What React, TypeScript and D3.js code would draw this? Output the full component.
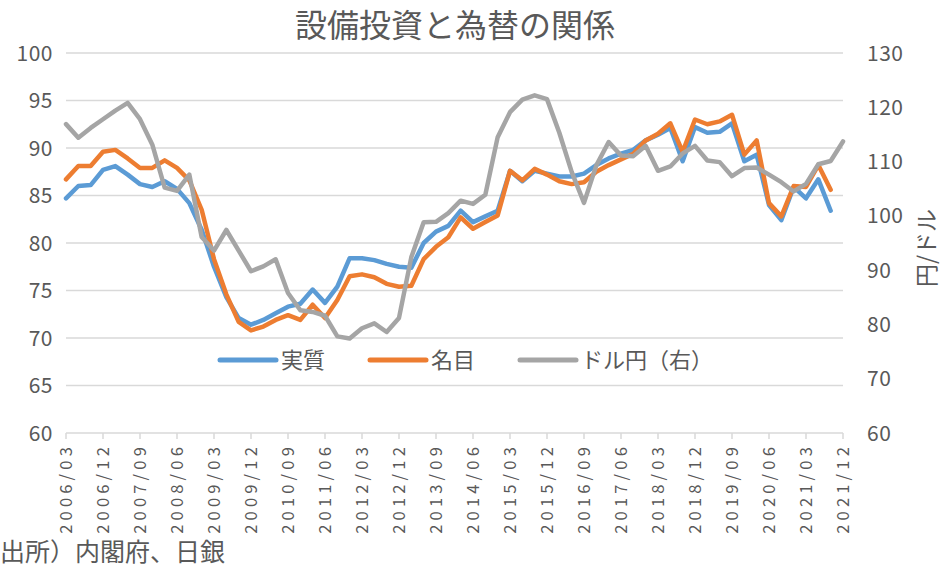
import React, { useEffect, useRef } from 'react';
import * as d3 from 'd3';

// quarterly data, 2006Q1 .. 2021Q4
const years = d3.range(2006, 2022);
const months = ['03', '06', '09', '12'];
const quarters: string[] = years.flatMap(y => months.map(m => `${y}/${m}`));

const tickLabels = [
  '2006/03', '2006/12', '2007/09', '2008/06', '2009/03', '2009/12', '2010/09', '2011/06',
  '2012/03', '2012/12', '2013/09', '2014/06', '2015/03', '2015/12', '2016/09', '2017/06',
  '2018/03', '2018/12', '2019/09', '2020/06', '2021/03', '2021/12',
];

// 実質 設備投資
const real: (number | null)[] = [
  84.7, 86.0, 86.1, 87.7, 88.1, 87.2, 86.2, 85.9,
  86.5, 85.7, 84.2, 81.4, 77.5, 74.3, 72.1, 71.4,
  71.9, 72.6, 73.3, 73.6, 75.1, 73.7, 75.4, 78.4,
  78.4, 78.2, 77.8, 77.5, 77.4, 80.0, 81.2, 81.8,
  83.4, 82.2, 82.8, 83.4, 87.6, 86.5, 87.6, 87.3,
  87.0, 87.0, 87.3, 88.2, 88.9, 89.4, 89.8, 90.8,
  91.4, 92.1, 88.6, 92.2, 91.6, 91.7, 92.6, 88.6,
  89.3, 84.0, 82.4, 85.9, 84.7, 86.7, 83.4, null,
];

// 名目 設備投資
const nominal: (number | null)[] = [
  86.7, 88.1, 88.1, 89.6, 89.8, 88.9, 87.9, 87.9,
  88.7, 87.9, 86.6, 83.5, 78.3, 74.6, 71.7, 70.8,
  71.2, 71.9, 72.4, 71.9, 73.5, 72.1, 74.0, 76.5,
  76.7, 76.4, 75.7, 75.4, 75.5, 78.3, 79.6, 80.6,
  82.7, 81.5, 82.2, 82.9, 87.6, 86.6, 87.8, 87.2,
  86.5, 86.2, 86.4, 87.5, 88.2, 88.8, 89.4, 90.8,
  91.5, 92.6, 89.6, 93.0, 92.5, 92.8, 93.5, 89.3,
  90.8, 84.2, 82.8, 86.0, 85.9, 88.2, 85.6, null,
];

// ドル円（右軸）
const usdjpy: (number | null)[] = [
  116.9, 114.4, 116.2, 117.8, 119.4, 120.8, 117.8, 113.1,
  105.2, 104.6, 107.6, 96.1, 93.6, 97.4, 93.6, 89.8,
  90.7, 92.0, 85.8, 82.6, 82.3, 81.6, 77.8, 77.4,
  79.3, 80.2, 78.6, 81.2, 92.4, 98.8, 98.9, 100.5,
  102.8, 102.2, 103.9, 114.5, 119.1, 121.4, 122.2, 121.5,
  115.3, 108.1, 102.4, 109.3, 113.6, 111.1, 111.0, 112.9,
  108.3, 109.1, 111.5, 112.9, 110.2, 109.9, 107.3, 108.8,
  108.9, 107.6, 106.2, 104.5, 105.9, 109.5, 110.1, 113.7,
];

const leftTicks = [60, 65, 70, 75, 80, 85, 90, 95, 100];
const rightTicks = [60, 70, 80, 90, 100, 110, 120, 130];

const W = 952;
const H = 567;
const FONT = '"Noto Sans CJK JP", "Noto Sans", sans-serif';
const TEXT = '#595959';

const App: React.FC = () => {
  const svgRef = useRef<SVGSVGElement>(null);

  useEffect(() => {
    const svg = d3.select(svgRef.current);
    svg.selectAll('*').remove();

    const left = 66, right = 843, top = 53, bottom = 433;

    const x = d3.scaleLinear().domain([0, quarters.length - 1]).range([left, right]);
    const yL = d3.scaleLinear().domain([60, 100]).range([bottom, top]);
    const yR = d3.scaleLinear().domain([60, 130]).range([bottom, top]);

    svg.append('rect').attr('width', W).attr('height', H).attr('fill', '#fff');

    // title
    svg.append('text')
      .attr('x', 455).attr('y', 37)
      .attr('text-anchor', 'middle')
      .attr('font-size', 32)
      .attr('fill', TEXT)
      .text('設備投資と為替の関係');

    // gridlines
    svg.append('g').selectAll('line')
      .data(leftTicks.filter(t => t !== 60))
      .enter().append('line')
      .attr('x1', left).attr('x2', right)
      .attr('y1', d => yL(d)).attr('y2', d => yL(d))
      .attr('stroke', '#d9d9d9').attr('stroke-width', 1.5);

    // left axis labels
    svg.append('g').selectAll('text')
      .data(leftTicks)
      .enter().append('text')
      .attr('x', 53).attr('y', d => yL(d))
      .attr('dy', '0.36em')
      .attr('text-anchor', 'end')
      .attr('font-size', 21)
      .attr('letter-spacing', 0.5)
      .attr('fill', TEXT)
      .text(d => d);

    // right axis labels
    svg.append('g').selectAll('text')
      .data(rightTicks)
      .enter().append('text')
      .attr('x', 867).attr('y', d => yR(d))
      .attr('dy', '0.36em')
      .attr('font-size', 21)
      .attr('letter-spacing', 0.5)
      .attr('fill', TEXT)
      .text(d => d);

    // axis titles
    svg.append('text')
      .attr('transform', `translate(935,${(top + bottom) / 2 + 5}) rotate(-90)`)
      .attr('text-anchor', 'middle')
      .attr('font-size', 23)
      .attr('fill', TEXT)
      .text('円/ドル');

    svg.append('text')
      .attr('transform', `translate(-14,${(top + bottom) / 2 + 5}) rotate(-90)`)
      .attr('text-anchor', 'middle')
      .attr('font-size', 23)
      .attr('fill', TEXT)
      .text('兆円');

    // x axis
    svg.append('line')
      .attr('x1', left).attr('x2', right)
      .attr('y1', bottom).attr('y2', bottom)
      .attr('stroke', '#d9d9d9').attr('stroke-width', 1.5);

    const tickIdx = tickLabels.map(l => quarters.indexOf(l));

    svg.append('g').selectAll('line')
      .data(tickIdx)
      .enter().append('line')
      .attr('x1', d => x(d)).attr('x2', d => x(d))
      .attr('y1', bottom).attr('y2', bottom + 6)
      .attr('stroke', '#d9d9d9').attr('stroke-width', 1.5);

    svg.append('g').selectAll('text')
      .data(tickIdx)
      .enter().append('text')
      .attr('transform', d => `translate(${x(d)},${bottom + 10}) rotate(-90)`)
      .attr('text-anchor', 'end')
      .attr('dy', '0.36em')
      .attr('font-size', 16.5)
      .attr('letter-spacing', 4.2)
      .attr('fill', TEXT)
      .text(d => quarters[d]);

    // series
    const lineL = d3.line<number | null>()
      .defined(d => d !== null)
      .x((_d, i) => x(i))
      .y(d => yL(d as number));

    const lineR = d3.line<number | null>()
      .defined(d => d !== null)
      .x((_d, i) => x(i))
      .y(d => yR(d as number));

    const series = [
      { name: '実質', values: real, colour: '#5b9bd5', gen: lineL },
      { name: '名目', values: nominal, colour: '#ed7d31', gen: lineL },
      { name: 'ドル円（右）', values: usdjpy, colour: '#a5a5a5', gen: lineR },
    ];

    series.forEach(s => {
      svg.append('path')
        .attr('d', s.gen(s.values))
        .attr('fill', 'none')
        .attr('stroke', s.colour)
        .attr('stroke-width', 4.5)
        .attr('stroke-linejoin', 'round')
        .attr('stroke-linecap', 'round');
    });

    // legend
    const legendX = [220, 370, 520];
    const legend = svg.append('g');
    const items = legend.selectAll('g')
      .data(series)
      .enter().append('g')
      .attr('transform', (_d, i) => `translate(${legendX[i]},360)`);

    items.append('line')
      .attr('x1', 0).attr('x2', 56)
      .attr('stroke', d => d.colour)
      .attr('stroke-width', 5)
      .attr('stroke-linecap', 'round');

    items.append('text')
      .attr('x', 61)
      .attr('dy', '0.36em')
      .attr('font-size', 22)
      .attr('fill', TEXT)
      .text(d => d.name);

    // source
    svg.append('text')
      .attr('x', 0).attr('y', 561)
      .attr('font-size', 25)
      .attr('fill', TEXT)
      .text('出所）内閣府、日銀');
  }, []);

  return (
    <div style={{ position: 'absolute', left: 0, top: 0, width: W, height: H }}>
      <svg ref={svgRef} width={W} height={H} style={{ display: 'block', fontFamily: FONT }}></svg>
    </div>
  );
};

export default App;
